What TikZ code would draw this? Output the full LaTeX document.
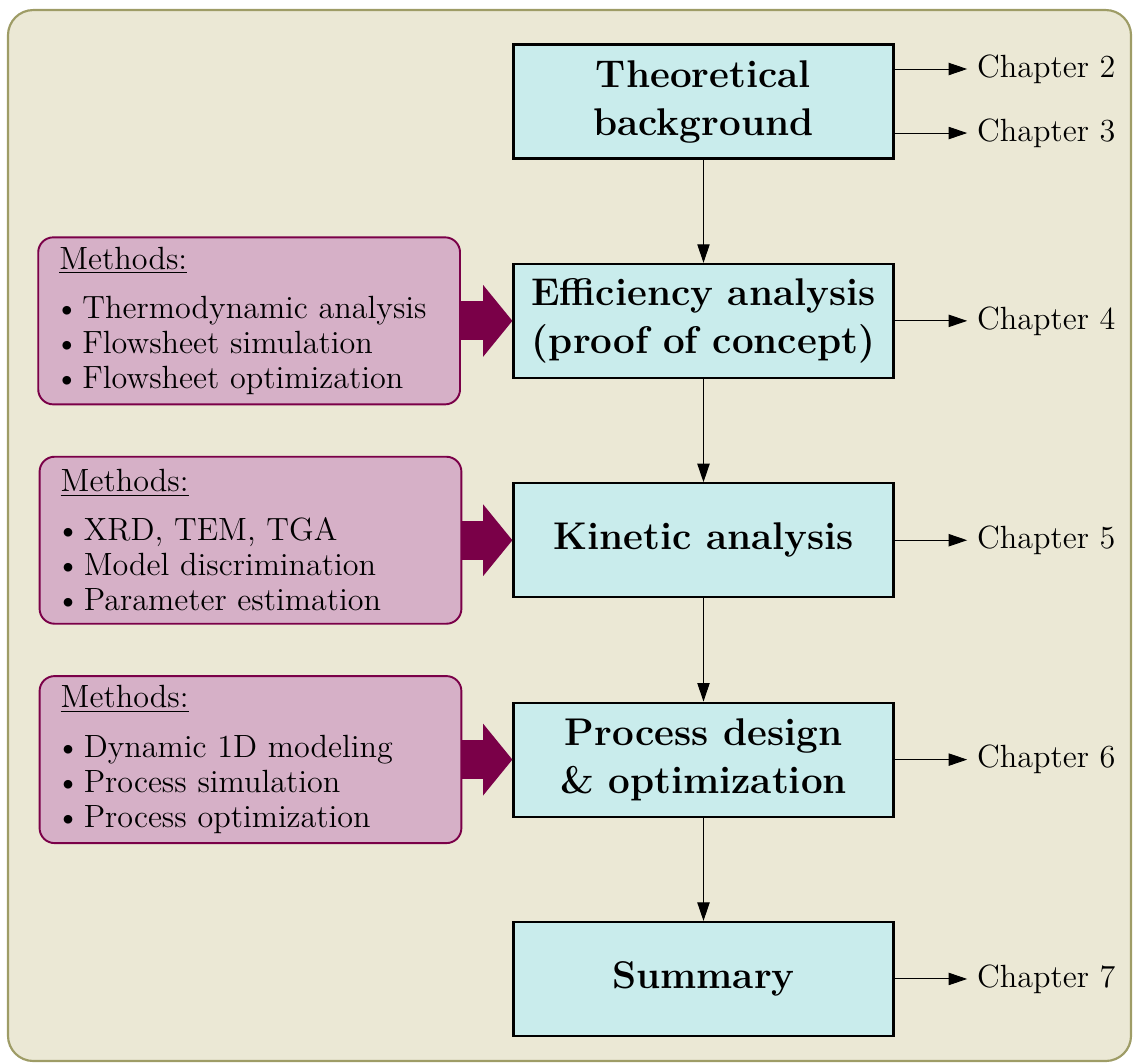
\documentclass[tikz,border=0pt]{standalone}
\usepackage{tikz}
\usetikzlibrary{arrows.meta,calc,positioning}
\usepackage{xcolor}

\definecolor{bgcream}{RGB}{235,232,213}
\definecolor{frameolive}{RGB}{158,156,102}
\definecolor{stepblue}{RGB}{201,236,236}
\definecolor{methpink}{RGB}{214,176,199}
\definecolor{methdark}{RGB}{122,0,72}

\newcommand{\mitem}{\makebox[9.6pt][l]{\hspace*{-2pt}\textbullet}}

\tikzset{
  stepbox/.style={draw=black, line width=0.9pt, fill=stepblue, minimum width=5.567cm, minimum height=1.67cm,
    align=center, font=\fontsize{16.1}{20}\selectfont\bfseries},
  methbox/.style={draw=methdark, thick, fill=methpink, rounded corners=0.22cm,
    minimum height=2.447cm, text width=5.56cm, inner xsep=0.31cm, align=left},
  chap/.style={anchor=west, inner xsep=4pt},
  fatarrow/.style={methdark, line width=0.57cm, -{Triangle[length=0.43cm, width=1.03cm]}},
  thinarrow/.style={-{Triangle[length=2.7mm, width=1.8mm]}},
}

\begin{document}
\begin{tikzpicture}[every node/.style={font=\fontsize{13.4}{14.6}\selectfont}]
  \useasboundingbox (0,0) rectangle (16.6,-15.574);
  \def\sep{3.214}
  \def\mx{10.307}
  % background frame
  \draw[frameolive, line width=0.9pt, fill=bgcream, rounded corners=0.37cm]
    (0.117,-0.147) rectangle (16.571,-15.545);

  % main steps
  \node[stepbox] (theo) at (\mx,-1.487) {Theoretical\\background};
  \node[stepbox] (eff) at (\mx,-1.487-\sep) {Efficiency analysis\\(proof of concept)};
  \node[stepbox] (kin) at (\mx,-1.487-2*\sep) {Kinetic analysis};
  \node[stepbox] (proc) at (\mx,-1.487-3*\sep) {Process design\\\& optimization};
  \node[stepbox] (summ) at (\mx,-1.487-4*\sep) {Summary};

  \draw[thinarrow] (theo) -- (eff);
  \draw[thinarrow] (eff) -- (kin);
  \draw[thinarrow] (kin) -- (proc);
  \draw[thinarrow] (proc) -- (summ);

  % chapters
  \node[chap] (c2) at (14.17,-1.011) {Chapter 2};
  \node[chap] (c3) at (14.17,-1.949) {Chapter 3};
  \node[chap] (c4) at (14.17,-1.487-\sep) {Chapter 4};
  \node[chap] (c5) at (14.17,-1.487-2*\sep) {Chapter 5};
  \node[chap] (c6) at (14.17,-1.487-3*\sep) {Chapter 6};
  \node[chap] (c7) at (14.17,-1.487-4*\sep) {Chapter 7};

  \draw[thinarrow] (theo.east |- c2) -- (c2.west);
  \draw[thinarrow] (theo.east |- c3) -- (c3.west);
  \draw[thinarrow] (eff.east) -- (c4.west);
  \draw[thinarrow] (kin.east) -- (c5.west);
  \draw[thinarrow] (proc.east) -- (c6.west);
  \draw[thinarrow] (summ.east) -- (c7.west);

  % methods
  \node[methbox] (m1) at (3.65,-1.487-\sep) {\underline{Methods:}\\[6pt]
    \mitem Thermodynamic analysis\\
    \mitem Flowsheet simulation\\
    \mitem Flowsheet optimization};
  \node[methbox] (m2) at (3.67,-1.487-2*\sep) {\underline{Methods:}\\[6pt]
    \mitem XRD, TEM, TGA\\
    \mitem Model discrimination\\
    \mitem Parameter estimation};
  \node[methbox] (m3) at (3.67,-1.487-3*\sep) {\underline{Methods:}\\[6pt]
    \mitem Dynamic 1D modeling\\
    \mitem Process simulation\\
    \mitem Process optimization};

  \draw[fatarrow] (m1.east) -- (eff.west);
  \draw[fatarrow] (m2.east) -- (kin.west);
  \draw[fatarrow] (m3.east) -- (proc.west);
\end{tikzpicture}
\end{document}
